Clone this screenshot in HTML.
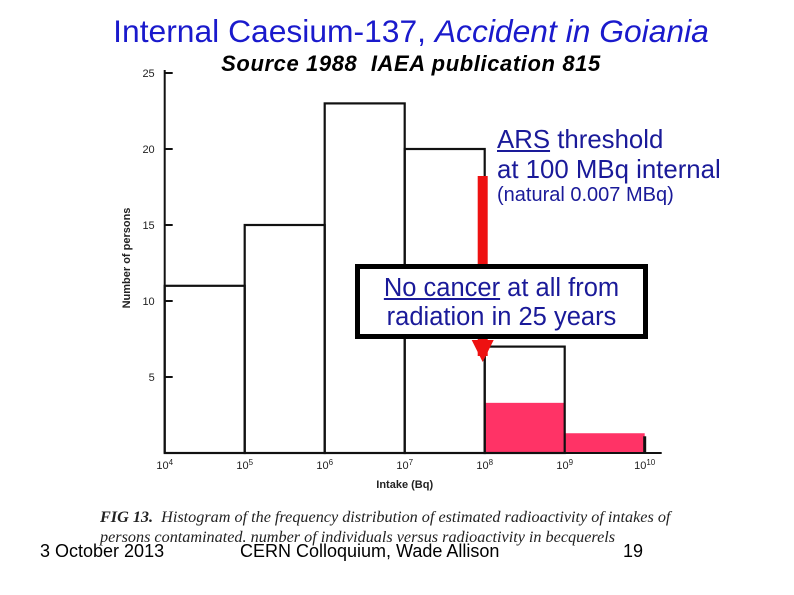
<!DOCTYPE html>
<html><head><meta charset="utf-8"><style>
body{margin:0;width:794px;height:595px;background:#fff;overflow:hidden;position:relative;font-family:"Liberation Sans",sans-serif}
.t{position:absolute;white-space:nowrap}
</style></head><body>
<div class="t" style="left:0;width:822px;text-align:center;top:13px;font-size:31.8px;color:#1a1acc">Internal Caesium-137, <i>Accident in Goiania</i></div>
<div class="t" style="left:0;width:822px;text-align:center;top:51px;font-size:22px;font-weight:bold;font-style:italic;color:#000;letter-spacing:0.6px">Source 1988&nbsp; IAEA publication 815</div>
<svg id="chart" width="794" height="595" style="position:absolute;left:0;top:0"></svg>
<div class="t" style="left:497px;top:125px;font-size:25.8px;line-height:30px;color:#1a1a99"><u>ARS</u> threshold<br>at 100 MBq internal</div>
<div class="t" style="left:497px;top:184px;font-size:20px;color:#1a1a99">(natural 0.007 MBq)</div>
<div class="t" style="left:355px;top:264px;width:283px;height:60px;border:5px solid #000;background:#fff;text-align:center;font-size:25.5px;line-height:29px;color:#1a1a99;padding-top:5px;box-sizing:content-box"><u>No cancer</u> at all from<br>radiation in 25 years</div>
<div class="t" style="left:100px;top:507px;font-family:'Liberation Serif',serif;font-style:italic;font-size:16.2px;line-height:20px;color:#222"><b>FIG 13.</b>&nbsp; Histogram of the frequency distribution of estimated radioactivity of intakes of<br>persons contaminated. number of individuals versus radioactivity in becquerels</div>
<div class="t" style="left:40px;top:541px;font-size:18px">3 October 2013</div>
<div class="t" style="left:240px;top:541px;font-size:18px">CERN Colloquium, Wade Allison</div>
<div class="t" style="left:623px;top:541px;font-size:18px">19</div>
<script>
const edges=[4,5,6,7,8,9,10];
const counts=[11,15,23,20,7];
const pinkEdges=[8,9,10];
const pinkCounts=[3.3,1.3];
const yTicks=[5,10,15,20,25];
const xTicks=[4,5,6,7,8,9,10];
const threshold=8;
const NS="http://www.w3.org/2000/svg";
const svg=document.getElementById('chart');
const X=d=>164.7+(d-4)*80;
const Y=v=>453-v*15.2;
function mk(tag,a){const e=document.createElementNS(NS,tag);for(const k in a)e.setAttribute(k,a[k]);svg.appendChild(e);return e;}
pinkCounts.forEach((c,i)=>{const r=mk('rect',{x:X(pinkEdges[i]),y:Y(c),width:X(pinkEdges[i+1])-X(pinkEdges[i]),height:Y(0)-Y(c),fill:'#ff3366'});

});
counts.forEach((c,i)=>{const r=mk('rect',{x:X(edges[i]),y:Y(c),width:X(edges[i+1])-X(edges[i]),height:Y(0)-Y(c),fill:'none',stroke:'#111','stroke-width':2.2});

});
const tick10=mk('line',{x1:X(10),x2:X(10),y1:Y(0),y2:Y(1.1),stroke:'#111','stroke-width':3});


const ya=mk('line',{x1:X(4),x2:X(4),y1:Y(25.2),y2:Y(0),stroke:'#111','stroke-width':2});


const xa=mk('line',{x1:X(4),x2:X(10)+17,y1:Y(0),y2:Y(0),stroke:'#111','stroke-width':2});


yTicks.forEach(v=>{const l=mk('line',{x1:X(4),x2:X(4)+8,y1:Y(v),y2:Y(v),stroke:'#111','stroke-width':2});


const t=mk('text',{x:X(4)-10,y:Y(v)+4,'text-anchor':'end','font-size':11,'font-family':'Liberation Sans',fill:'#222'});t.textContent=v;

});
xTicks.forEach(d=>{const t=mk('text',{x:X(d),y:Y(0)+16,'text-anchor':'middle','font-size':11,'font-family':'Liberation Sans',fill:'#222'});
t.textContent='10';const s=document.createElementNS(NS,'tspan');s.setAttribute('dy','-4');s.setAttribute('font-size','8');s.textContent=d;t.appendChild(s);

});
const xt=mk('text',{x:X(7),y:488,'text-anchor':'middle','font-size':11,'font-weight':'bold','font-family':'Liberation Sans',fill:'#222'});xt.textContent='Intake (Bq)';


const yt=mk('text',{x:0,y:0,'text-anchor':'middle','font-size':11,'font-weight':'bold','font-family':'Liberation Sans',fill:'#222',transform:'translate(130,258) rotate(-90)'});yt.textContent='Number of persons';


const ax=X(threshold)-2;
const al=mk('rect',{x:ax-5,y:176,width:10,height:180,fill:'#ee1111'});


const ah=mk('polygon',{points:`${ax-11},340 ${ax+11},340 ${ax},362`,fill:'#ee1111'});


</script>
</body></html>
